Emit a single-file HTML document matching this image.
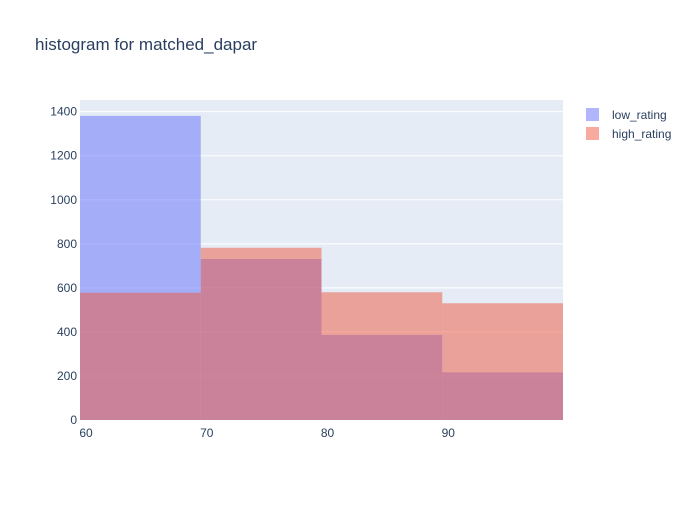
<!DOCTYPE html>
<html><head><meta charset="utf-8"><style>
body{margin:0;background:#fff;font-family:"Liberation Sans",sans-serif}
svg text{font-family:"Liberation Sans",sans-serif;fill:#2a3f5f}
</style></head><body>
<svg id="c" width="700" height="500">
<rect x="0" y="0" width="700" height="500" fill="#fff"/>
<text x="35" y="50" font-size="17">histogram for matched_dapar</text>
<g id="plot"></g>
<g>
<g>
<rect x="586" y="108" width="13" height="13" fill="#636efa" opacity="0.5"/>
<text x="612" y="119" font-size="12">low_rating</text></g>
<g>
<rect x="586" y="127" width="13" height="13" fill="#EF553B" opacity="0.5"/>
<text x="612" y="138" font-size="12">high_rating</text></g>
</g>
</svg>
<script>
const binStarts=[59.5,69.5,79.5,89.5];
const binWidth=10;
const lowRating=[1381,731,386,216];
const highRating=[578,782,580,530];
const yTicks=[0,200,400,600,800,1000,1200,1400];
const xTicks=[60,70,80,90];
const L=80,R=563,T=100,B=420,xmin=59.5,xmax=99.5,ymax=1453;
const X=v=>L+(v-xmin)/(xmax-xmin)*(R-L);
const Y=v=>B-v/ymax*(B-T);
const ns="http://www.w3.org/2000/svg",g=document.getElementById('plot');
function mk(t,a){const e=document.createElementNS(ns,t);for(const k in a)e.setAttribute(k,a[k]);g.appendChild(e);return e;}
let bg=mk('rect',{x:L,y:T,width:R-L,height:B-T,fill:'#e5ecf6'});


yTicks.forEach(t=>{
 if(t>0){let l=mk('line',{x1:L,x2:R,y1:Y(t),y2:Y(t),stroke:'#fff','stroke-width':1});
 
 }
 let tx=mk('text',{x:L-3,y:Y(t)+4,'text-anchor':'end','font-size':12});tx.textContent=t;
 
 
});
xTicks.forEach(t=>{
 let tx=mk('text',{x:X(t),y:B+17,'text-anchor':'middle','font-size':12});tx.textContent=t;
 
 
});
[[lowRating,'#636efa','low'],[highRating,'#EF553B','high']].forEach(([vals,col,n])=>{
 vals.forEach((v,i)=>{
  let r=mk('rect',{x:X(binStarts[i]),y:Y(v),width:X(binStarts[i]+binWidth)-X(binStarts[i]),height:B-Y(v),fill:col,opacity:0.5});
  
  
 });
});
</script>
</body></html>
